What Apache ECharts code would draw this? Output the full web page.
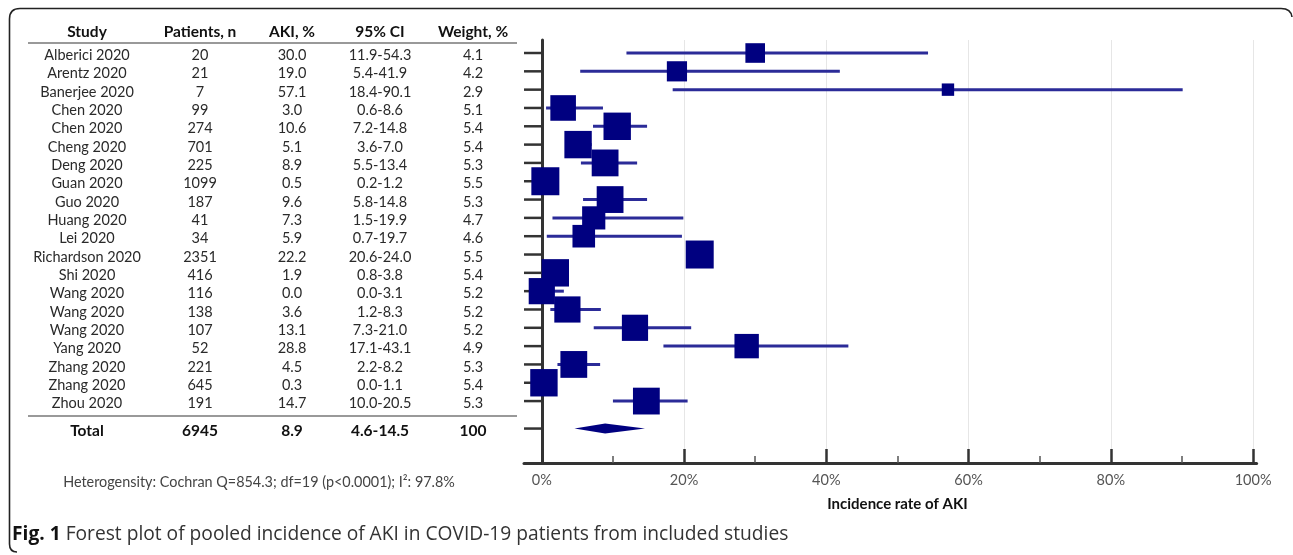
<!DOCTYPE html>
<html>
<head>
<meta charset="utf-8">
<script src="https://cdn.jsdelivr.net/npm/echarts@6/dist/echarts.min.js"></script>
<style>
html,body{margin:0;padding:0;background:#fff;}
#main{width:1293px;height:555px;}
</style>
</head>
<body>
<div id="main"></div>
<script>
// ---- data ----
const headers = ['Study', 'Patients, n', 'AKI, %', '95% CI', 'Weight, %'];
const studies = ['Alberici 2020','Arentz 2020','Banerjee 2020','Chen 2020','Chen 2020','Cheng 2020','Deng 2020','Guan 2020','Guo 2020','Huang 2020','Lei 2020','Richardson 2020','Shi 2020','Wang 2020','Wang 2020','Wang 2020','Yang 2020','Zhang 2020','Zhang 2020','Zhou 2020'];
const patients = [20,21,7,99,274,701,225,1099,187,41,34,2351,416,116,138,107,52,221,645,191];
const aki = [30.0,19.0,57.1,3.0,10.6,5.1,8.9,0.5,9.6,7.3,5.9,22.2,1.9,0.0,3.6,13.1,28.8,4.5,0.3,14.7];
const ciLow = [11.9,5.4,18.4,0.6,7.2,3.6,5.5,0.2,5.8,1.5,0.7,20.6,0.8,0.0,1.2,7.3,17.1,2.2,0.0,10.0];
const ciHigh = [54.3,41.9,90.1,8.6,14.8,7.0,13.4,1.2,14.8,19.9,19.7,24.0,3.8,3.1,8.3,21.0,43.1,8.2,1.1,20.5];
const weights = [4.1,4.2,2.9,5.1,5.4,5.4,5.3,5.5,5.3,4.7,4.6,5.5,5.4,5.2,5.2,5.2,4.9,5.3,5.4,5.3];
const totalLabel = 'Total';
const totalPatients = 6945;
const totalAki = 8.9;
const totalLow = 4.6;
const totalHigh = 14.5;
const totalWeight = '100';
const heterogeneity = 'Heterogensity: Cochran Q=854.3; df=19 (p<0.0001); I²: 97.8%';
const captionBold = 'Fig. 1';
const captionText = ' Forest plot of pooled incidence of AKI in COVID-19 patients from included studies';
const axisName = 'Incidence rate of AKI';

// ---- layout ----
const n = studies.length;
const rowPos = studies.map((s, i) => i + 1);
const totalPos = n + 1.5;
const colX = [87, 200, 292, 380, 473];
const FONT = 'Lato, "Open Sans", sans-serif';
const yMin = 0.29, yMax = 23.38;

const tableData = studies.map((s, i) => [0, rowPos[i], i]).concat([[0, totalPos, n]]);

function renderTable(params, api) {
  const i = api.value(2);
  const y = api.coord([0, api.value(1)])[1] + 2.5;
  const isTotal = i === n;
  const cells = isTotal
    ? [totalLabel, String(totalPatients), totalAki.toFixed(1), totalLow.toFixed(1) + '-' + totalHigh.toFixed(1), totalWeight]
    : [studies[i], String(patients[i]), aki[i].toFixed(1), ciLow[i].toFixed(1) + '-' + ciHigh[i].toFixed(1), weights[i].toFixed(1)];
  return {
    type: 'group',
    children: cells.map((t, c) => ({
      type: 'text',
      style: {
        text: t, x: colX[c], y: y, align: 'center', verticalAlign: 'middle',
        fontSize: isTotal ? 15.5 : 14.5, fontFamily: FONT, fontWeight: isTotal ? 'bold' : 'normal',
        fill: isTotal ? '#111' : '#2a2a2a'
      }
    }))
  };
}

const chart = echarts.init(document.getElementById('main'), null, { renderer: 'canvas' });

const frameStyle = { stroke: '#222', lineWidth: 1.6, fill: null };

const option = {
  animation: false,
  backgroundColor: '#fff',
  grid: [
    { left: 524, top: 40, width: 732.6, height: 423 },
    { left: 541.8, top: 40, width: 711.3, height: 423 }
  ],
  xAxis: [
    {
      gridIndex: 0, type: 'value', min: -2.5, max: 100.5,
      axisLine: { show: true, lineStyle: { color: '#333', width: 3 } },
      axisTick: { show: false }, axisLabel: { show: false }, splitLine: { show: false }
    },
    {
      gridIndex: 1, type: 'value', min: 0, max: 100, interval: 20,
      axisLine: { show: false },
      axisTick: { show: true, inside: true, length: 14, lineStyle: { color: '#333', width: 2.5 } },
      minorTick: { show: true, splitNumber: 2, length: 7, lineStyle: { color: '#555', width: 1.5 } },
      splitLine: { show: true, lineStyle: { color: '#e6e6e6', width: 1 } },
      axisLabel: { color: '#555', fontSize: 14.5, fontFamily: FONT, margin: 10, formatter: v => v + '%' },
      name: axisName, nameLocation: 'middle', nameGap: 34,
      nameTextStyle: { color: '#111', fontSize: 15, fontWeight: 'bold', fontFamily: FONT }
    }
  ],
  yAxis: [
    {
      gridIndex: 0, type: 'value', min: yMin, max: yMax, inverse: true,
      axisLine: { show: true, lineStyle: { color: '#333', width: 3 } },
      axisTick: { show: false }, axisLabel: { show: false }, splitLine: { show: false }
    },
    {
      gridIndex: 1, type: 'value', min: yMin, max: yMax, inverse: true, show: false
    }
  ],
  series: [
    {
      type: 'custom', name: 'yticks', xAxisIndex: 1, yAxisIndex: 1, silent: true,
      data: rowPos.map(r => [0, r]).concat([[0, totalPos]]),
      encode: { x: 0, y: 1 },
      renderItem: (params, api) => {
        const p1 = api.coord([-2.5, api.value(1)]);
        const p2 = api.coord([0, api.value(1)]);
        return { type: 'line', shape: { x1: p1[0], y1: p1[1], x2: p2[0], y2: p2[1] }, style: { stroke: '#333', lineWidth: 2.5 } };
      },
      z: 1
    },
    {
      type: 'custom', name: 'ci', xAxisIndex: 1, yAxisIndex: 1, silent: true,
      data: studies.map((s, i) => [ciLow[i], ciHigh[i], rowPos[i]]),
      encode: { x: [0, 1], y: 2 },
      renderItem: (params, api) => {
        const p1 = api.coord([api.value(0), api.value(2)]);
        const p2 = api.coord([api.value(1), api.value(2)]);
        return { type: 'line', shape: { x1: p1[0], y1: p1[1], x2: p2[0], y2: p2[1] }, style: { stroke: '#2b2b98', lineWidth: 3 } };
      },
      z: 2
    },
    {
      type: 'scatter', name: 'estimate', xAxisIndex: 1, yAxisIndex: 1, silent: true, clip: false,
      symbol: 'rect',
      symbolSize: v => 6 * v[2] - 5,
      itemStyle: { color: '#000080', opacity: 1 },
      data: studies.map((s, i) => [aki[i], rowPos[i], weights[i]]),
      z: 3
    },
    {
      type: 'custom', name: 'pooled', xAxisIndex: 1, yAxisIndex: 1, silent: true,
      data: [[totalAki, totalPos, totalLow, totalHigh]],
      encode: { x: 0, y: 1 },
      renderItem: (params, api) => {
        const r = api.value(1);
        const c = api.coord([api.value(0), r]);
        const l = api.coord([api.value(2), r]);
        const h = api.coord([api.value(3), r]);
        return { type: 'polygon', shape: { points: [[l[0], l[1]], [c[0], c[1] - 5], [h[0], h[1]], [c[0], c[1] + 5]] }, style: { fill: '#000080' } };
      },
      z: 3
    },
    {
      type: 'custom', name: 'table', xAxisIndex: 1, yAxisIndex: 1, silent: true,
      data: tableData, encode: { x: 0, y: 1 },
      renderItem: renderTable, z: 5
    }
  ],
  graphic: [
    { type: 'line', silent: true, shape: { x1: 9.5, y1: 19, x2: 9.5, y2: 544 }, style: frameStyle },
    { type: 'line', silent: true, shape: { x1: 20, y1: 8.5, x2: 1281, y2: 8.5 }, style: frameStyle },
    { type: 'bezierCurve', silent: true, shape: { x1: 9.5, y1: 19, x2: 20, y2: 8.5, cpx1: 9.5, cpy1: 8.5 }, style: frameStyle },
    { type: 'bezierCurve', silent: true, shape: { x1: 1281, y1: 8.5, x2: 1292, y2: 17, cpx1: 1291, cpy1: 8.5 }, style: frameStyle },
    { type: 'bezierCurve', silent: true, shape: { x1: 9.5, y1: 544, x2: 17, y2: 552, cpx1: 9.5, cpy1: 552 }, style: frameStyle },
    { type: 'line', silent: true, shape: { x1: 28, y1: 43, x2: 517, y2: 43 }, style: { stroke: '#777', lineWidth: 1.5 } },
    { type: 'line', silent: true, shape: { x1: 28, y1: 416, x2: 517, y2: 416 }, style: { stroke: '#777', lineWidth: 1.5 } }
  ].concat(headers.map((h, c) => ({
    type: 'text', silent: true,
    style: { text: h, x: colX[c], y: 32, align: 'center', verticalAlign: 'middle', fontSize: 15.5, fontWeight: 'bold', fontFamily: FONT, fill: '#111' }
  }))).concat([
    {
      type: 'text', silent: true,
      style: { text: heterogeneity, x: 259, y: 482, align: 'center', verticalAlign: 'middle', fontSize: 14.4, fontFamily: FONT, fill: '#444' }
    },
    {
      type: 'text', silent: true,
      style: {
        text: '{b|' + captionBold + '}{r|' + captionText + '}', x: 12, y: 535, align: 'left', verticalAlign: 'middle',
        rich: {
          b: { fontSize: 19.2, fontWeight: 'bold', fontFamily: '"Open Sans", Lato, sans-serif', fill: '#111' },
          r: { fontSize: 19.2, fontFamily: '"Open Sans", Lato, sans-serif', fill: '#333' }
        }
      }
    }
  ])
};

chart.setOption(option);
</script>
</body>
</html>
